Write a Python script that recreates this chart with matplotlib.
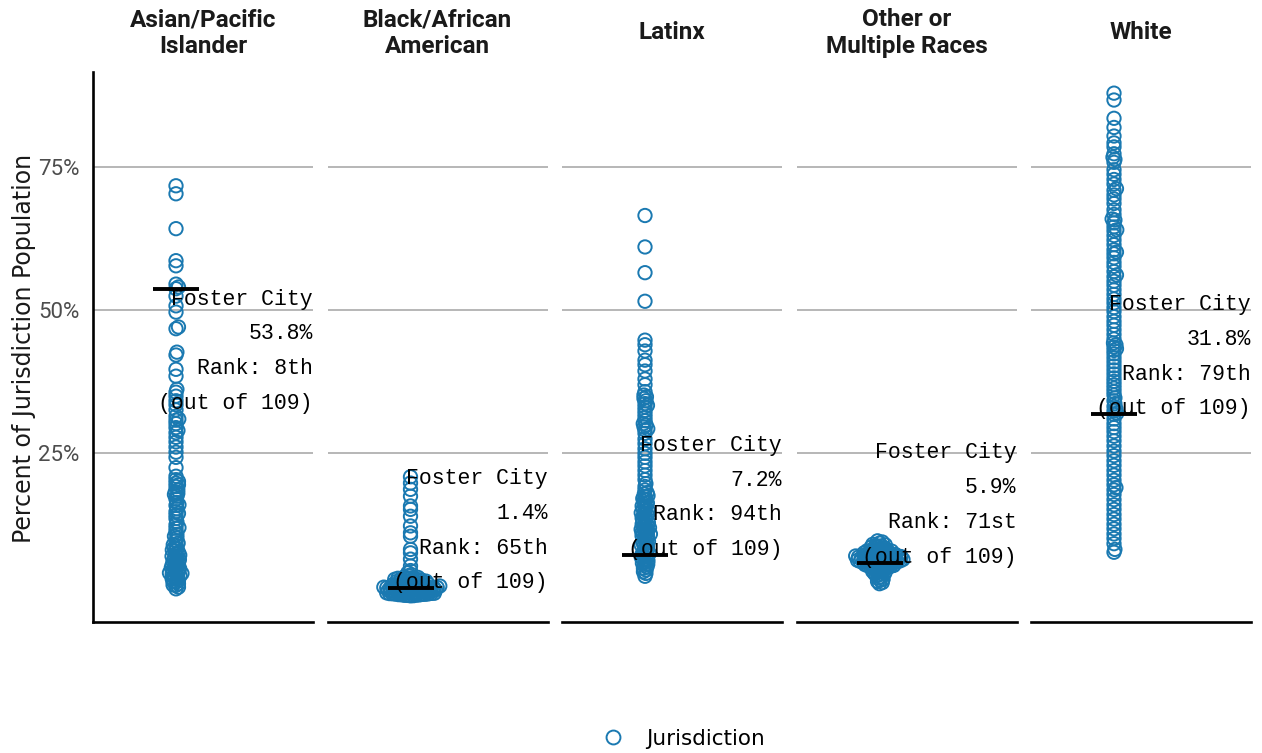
import numpy as np
import matplotlib
matplotlib.use("Agg")
from matplotlib import pyplot as plt
from matplotlib.lines import Line2D
from matplotlib import font_manager


"""Foster City share of population by race vs. all jurisdictions"""

groups = ['Asian/Pacific\nIslander', 'Black/African\nAmerican', 'Latinx',
          'Other or\nMultiple Races', 'White']

asian_pi = [71.8, 70.4, 64.3, 58.7, 57.8, 54.6, 54.1, 53.8,
            52.5, 50.8, 49.7, 47.1, 46.8, 42.7, 42.2, 39.7, 38.5, 36.2,
            35.7, 35.0, 34.2, 33.5, 32.6, 31.5, 31.0, 30.8, 30.2, 29.5, 29.0, 28.6,
            27.8, 27.0, 26.1, 25.2, 24.3, 22.5, 21.0, 20.4, 20.1, 19.8, 19.5, 19.2,
            18.6, 18.3, 18.0, 17.8, 17.5, 17.0, 16.4, 16.0, 15.9, 15.3, 14.8, 14.5, 14.2, 13.6,
            13.0, 12.5, 12.0, 11.9, 11.3, 10.8, 10.5, 10.2, 9.7, 9.3, 9.0, 8.9, 8.5, 8.3,
            8.1, 7.9, 7.7, 7.4, 7.2, 7.0, 6.9, 6.7, 6.4, 6.3, 6.1, 5.9, 5.8, 5.5, 5.4, 5.2, 5.0,
            4.9, 4.8, 4.6, 4.4, 4.3, 4.1, 4.0, 3.9, 3.8, 3.6, 3.5, 3.3, 3.1, 3.0, 2.8, 2.6, 2.5,
            2.2, 2.0, 1.9, 1.6, 1.3]

black = [20.9, 19.8, 18.7, 17.5, 15.8, 15.2, 14.0, 12.3, 11.1, 10.5,
         8.2, 7.6, 6.5, 5.3, 4.5, 4.1, 3.8, 3.6, 3.4, 3.3,
         3.2, 3.15, 3.1, 3.02, 2.97, 2.93, 2.88, 2.84, 2.8, 2.74,
         2.7, 2.65, 2.61, 2.55, 2.5, 2.46, 2.41, 2.35, 2.3, 2.26,
         2.2, 2.16, 2.11, 2.05, 2.01, 1.96, 1.9, 1.87, 1.84, 1.8,
         1.78, 1.75, 1.71, 1.69, 1.66, 1.62, 1.6, 1.57, 1.53, 1.51,
         1.49, 1.47, 1.45, 1.43, 1.4,
         1.37, 1.34, 1.32, 1.28, 1.25, 1.23, 1.19, 1.16, 1.14, 1.1,
         1.07, 1.05, 1.01, 0.98, 0.96, 0.92, 0.89, 0.87, 0.83, 0.8,
         0.78, 0.74, 0.71, 0.69, 0.65, 0.62, 0.6, 0.56, 0.53, 0.51,
         0.47, 0.44, 0.42, 0.38, 0.35, 0.33, 0.29, 0.26, 0.24, 0.2,
         0.17, 0.15, 0.11, 0.08]

latinx = [66.6, 61.1, 56.6, 51.6, 44.8, 44.0, 42.9, 41.3, 40.5, 39.4,
          38.0, 37.0, 35.8, 35.2, 34.9, 34.6, 34.2, 33.7, 33.4, 33.1, 32.5, 31.9,
          31.3, 30.7, 30.2, 30.0, 29.6, 29.3, 29.1, 28.5, 27.5, 26.7, 25.8, 25.0,
          24.3, 23.5, 22.8, 22.0, 21.2, 20.4, 19.7, 19.2, 18.6, 18.1, 17.9,
          17.6, 17.4, 17.1, 16.9, 16.6, 16.3, 16.1, 15.8, 15.6, 15.3, 15.1, 14.9, 14.6, 14.4, 14.2,
          13.9, 13.7, 13.4, 13.2, 12.9, 12.8, 12.6, 12.4, 12.2, 12.0, 11.9, 11.7, 11.6, 11.4,
          11.2, 11.1, 10.9, 10.8, 10.6, 10.5, 10.2, 9.9, 9.6, 9.4, 9.3, 9.0, 8.9, 8.7, 8.4,
          8.1, 7.8, 7.5, 7.4, 7.2,
          7.0, 6.8, 6.6, 6.4, 6.2, 6.0, 5.8, 5.6, 5.4, 5.1, 4.9, 4.6, 4.3, 4.0, 3.5]

other_multi = [9.7, 9.5, 9.3, 9.1, 9.0, 8.9, 8.8, 8.7, 8.6, 8.5,
               8.4, 8.3, 8.2, 8.15, 8.1, 8.0, 7.95, 7.9, 7.85, 7.8,
               7.75, 7.7, 7.65, 7.6, 7.55, 7.5, 7.45, 7.4, 7.35, 7.3,
               7.25, 7.2, 7.15, 7.1, 7.05, 7.0, 6.95, 6.9, 6.85, 6.8,
               6.75, 6.7, 6.65, 6.6, 6.55, 6.5, 6.45, 6.4, 6.35, 6.3,
               6.27, 6.24, 6.21, 6.18, 6.15, 6.12, 6.09, 6.06, 6.03, 6.0,
               6.45, 6.55, 6.65, 6.75, 6.85, 6.95, 7.05, 7.15, 5.97, 5.94,
               5.9,
               5.85, 5.8, 5.75, 5.7, 5.65, 5.6, 5.55, 5.5, 5.45, 5.4,
               5.35, 5.3, 5.25, 5.2, 5.15, 5.1, 5.05, 5.0, 4.9, 4.8,
               4.7, 4.6, 4.5, 4.4, 4.3, 4.2, 4.1, 4.0, 3.9, 3.8,
               3.6, 3.4, 3.2, 3.0, 2.8, 2.6, 2.4, 2.2]

white = [88.0, 86.8, 83.6, 82.0, 80.5, 79.3, 78.6, 77.4, 76.8, 76.4, 75.9, 74.6, 73.8,
         72.9, 72.1, 71.3, 71.0, 70.2, 69.5, 68.7, 67.6, 66.8, 66.0, 65.8, 65.3, 64.6,
         64.1, 63.9, 63.1, 62.3, 61.5, 60.6, 60.2, 59.9, 59.2, 58.4, 57.7, 56.8, 56.2,
         55.9, 55.1, 54.4, 53.6, 52.8, 52.0, 51.3, 50.5, 49.8, 48.9, 48.1, 47.4, 46.6,
         45.8, 45.0, 44.3, 44.0, 43.6, 43.3, 43.0, 42.4, 41.7, 41.0, 40.3, 39.6, 38.9,
         38.2, 37.6, 37.0, 36.4, 35.8, 35.2, 34.7, 34.2, 33.7, 33.2, 32.8, 32.4, 32.0,
         31.8,
         31.0, 30.2, 29.5, 28.8, 28.0, 27.2, 26.3, 25.4, 24.6, 23.7, 22.9, 22.0, 21.2,
         20.3, 19.5, 19.0, 18.6, 17.8, 16.9, 16.0, 15.2, 14.3, 13.5, 12.6, 11.8, 10.9,
         10.1, 9.2, 8.2, 7.7]

series = [asian_pi, black, latinx, other_multi, white]
foster_city = [53.8, 1.4, 7.2, 5.9, 31.8]
foster_rank = ['8th', '65th', '94th', '71st', '79th']
n_jurisdictions = 109
yticks = [25, 50, 75]
ytick_labels = ['25%', '50%', '75%']

BLUE = '#1a79b1'
GRID = '#a3a3a3'


def pick_font(name, fallback='DejaVu Sans'):
    names = {f.name for f in font_manager.fontManager.ttflist}
    return name if name in names else fallback


NARROW = pick_font('Roboto')
MONO = pick_font('Liberation Mono', 'DejaVu Sans Mono')


def swarm_offsets(values, ppy, gap=3.0):
    """x offsets in pixels so the points form a beeswarm column"""
    ys = np.asarray(values, dtype=float) * ppy
    xs = np.zeros(len(ys))
    placed = []
    for i in np.argsort(ys):
        y = ys[i]
        near = [(px, py) for px, py in placed if abs(py - y) < gap]
        cands = [0.0]
        for px, py in near:
            dx = np.sqrt(gap ** 2 - (py - y) ** 2)
            cands += [px + dx, px - dx]
        cands.sort(key=abs)
        for c in cands:
            if all((c - px) ** 2 + (y - py) ** 2 >= gap ** 2 - 1e-6 for px, py in near):
                xs[i] = c
                break
        placed.append((xs[i], y))
    return xs


W, H = 1262, 753
fig = plt.figure(figsize=(W / 100, H / 100), dpi=100)

top_px, bottom_px = 72, 622.3
panel_w, panel_step, first_left = 220, 234.5, 93
center_px = 83
ylim = (-4.55, 91.7)
ppy = (bottom_px - top_px) / (ylim[1] - ylim[0])

for i, (title, vals) in enumerate(zip(groups, series)):
    left = first_left + i * panel_step
    ax = fig.add_axes([left / W, 1 - bottom_px / H, panel_w / W, (bottom_px - top_px) / H])
    ax.set_xlim(-center_px, panel_w - center_px)
    ax.set_ylim(*ylim)

    xs = swarm_offsets(vals, ppy, gap=3.0)
    ax.scatter(xs, vals, s=92, facecolors='none', edgecolors=BLUE, linewidths=1.4,
               zorder=2, clip_on=False)

    fc = foster_city[i]
    ax.hlines(fc, -23, 23, color='black', lw=2.8, zorder=4)
    label = f"Foster City\n{fc}%\nRank: {foster_rank[i]}\n(out of {n_jurisdictions})"
    ax.text(panel_w - center_px, fc, label, ha='right', va='top' if fc > 50 else 'baseline',
            multialignment='right', family=MONO, fontsize=15.5, linespacing=1.86, zorder=5)

    ax.text(0.5, 1 + 39 / (bottom_px - top_px), title, transform=ax.transAxes,
            ha='center', va='center', family=NARROW, fontweight='bold', fontsize=17.5,
            linespacing=1.2, color='#1a1a1a')

    ax.set_yticks(yticks)
    ax.yaxis.grid(True, color=GRID, lw=1.1)
    ax.set_axisbelow(True)
    ax.set_xticks([])
    ax.tick_params(axis='y', length=0, pad=9.5)
    for s in ['top', 'right']:
        ax.spines[s].set_visible(False)
    ax.spines['bottom'].set_linewidth(1.9)
    if i == 0:
        ax.set_yticklabels(ytick_labels, family=NARROW, fontsize=16, color='#4d4d4d')
        ax.spines['left'].set_linewidth(1.9)
    else:
        ax.set_yticklabels([])
        ax.spines['left'].set_visible(False)

fig.text(24 / W, 1 - 348.5 / H, 'Percent of Jurisdiction Population', rotation=90,
         ha='center', va='center', fontsize=17, family='DejaVu Sans', color='#1a1a1a')

handle = Line2D([], [], marker='o', ls='none', mfc='none', mec=BLUE, ms=10, mew=1.4)
fig.legend(handles=[handle], labels=['Jurisdiction'], loc='center',
           bbox_to_anchor=(678 / W, 1 - 739 / H), frameon=False, handletextpad=0.55,
           prop=dict(family='DejaVu Sans', size=15.5))

fig.savefig('out.png', dpi=100)
